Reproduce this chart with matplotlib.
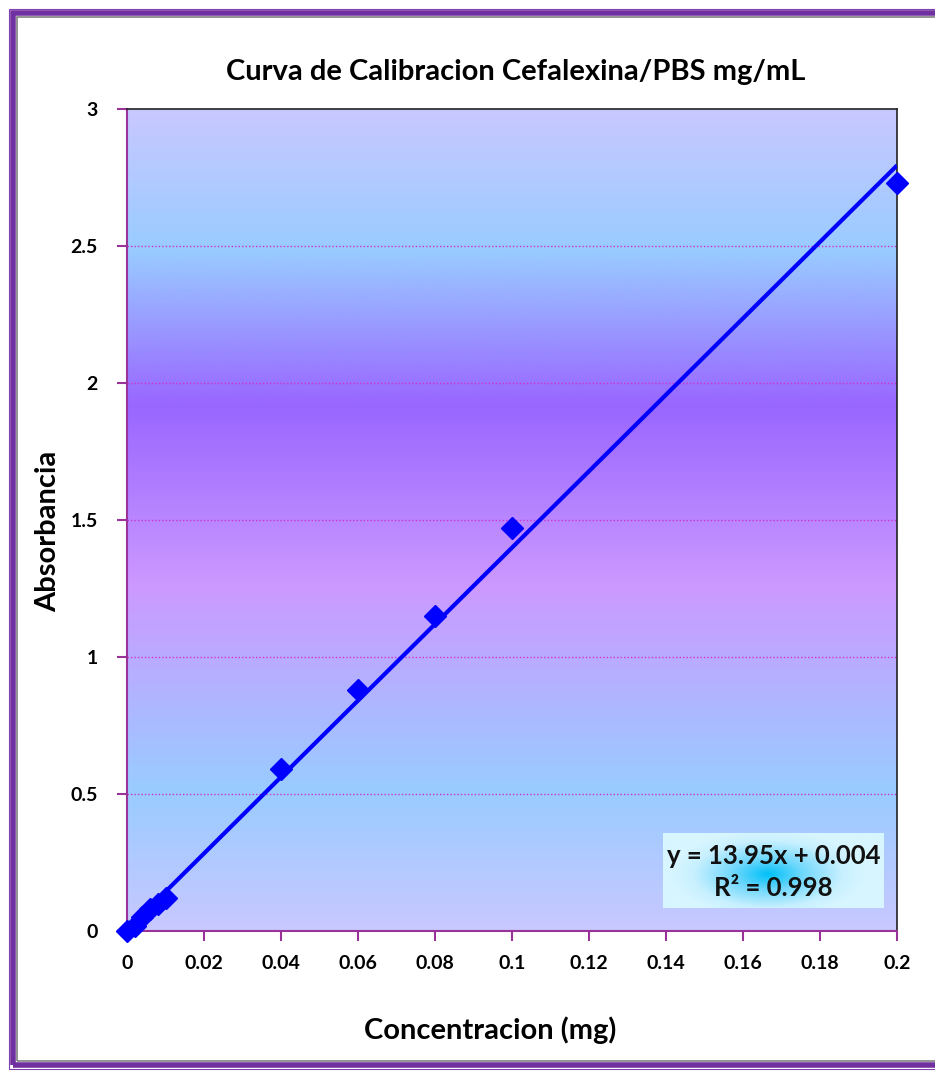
import numpy as np
import matplotlib
matplotlib.use("Agg")
import matplotlib.pyplot as plt
from matplotlib.colors import LinearSegmentedColormap
from matplotlib.patches import Rectangle

# ---- data ----
concentration = [0.0, 0.002, 0.004, 0.006, 0.008, 0.01, 0.04, 0.06, 0.08, 0.1, 0.2]
absorbance = [0.0, 0.02, 0.05, 0.08, 0.10, 0.12, 0.59, 0.88, 1.15, 1.47, 2.73]
slope = 13.95
intercept = 0.004
r2 = 0.998
x_ticks = [0, 0.02, 0.04, 0.06, 0.08, 0.1, 0.12, 0.14, 0.16, 0.18, 0.2]
x_tick_labels = ["0", "0.02", "0.04", "0.06", "0.08", "0.1", "0.12", "0.14", "0.16", "0.18", "0.2"]
y_ticks = [0, 0.5, 1, 1.5, 2, 2.5, 3]
y_tick_labels = ["0", "0.5", "1", "1.5", "2", "2.5", "3"]
title = "Curva de Calibracion Cefalexina/PBS mg/mL"
xlabel = "Concentracion (mg)"
ylabel = "Absorbancia"

plt.rcParams['font.family'] = ['Lato', 'DejaVu Sans']

W, H = 935, 1073
fig = plt.figure(figsize=(W / 100, H / 100), dpi=100)
fig.patch.set_facecolor("white")

# outer frame (right side extends beyond the image)
def frect(x0, y0, x1, y1, **kw):
    return Rectangle((x0 / W, 1 - y1 / H), (x1 - x0) / W, (y1 - y0) / H,
                     transform=fig.transFigure, fill=False, **kw)

fig.patches.append(frect(8.5, 8.5, W + 20, H - 4.5, edgecolor="#8040b0", linewidth=0.8))
fig.patches.append(frect(13, 13, W + 20, H - 8, edgecolor="#7030a0", linewidth=4))
fig.patches.append(frect(17, 17, W + 20, H - 12, edgecolor="#808080", linewidth=1.2))

# main axes
L, R, T, B = 127, 897, 109, 931
ax = fig.add_axes([L / W, 1 - B / H, (R - L) / W, (B - T) / H])

# gradient background (value 0 = top colour, 1 = bottom colour)
stops = [(0.0, "#c8c8ff"), (0.17, "#99ccff"), (0.36, "#9966ff"),
         (0.58, "#cc99ff"), (0.83, "#99ccff"), (1.0, "#c8c8ff")]
cmap = LinearSegmentedColormap.from_list("bg", stops)
grad = np.linspace(1, 0, 512).reshape(-1, 1)
ax.imshow(grad, cmap=cmap, aspect="auto", extent=[0, 0.2, 0, 3], origin="lower",
          zorder=0, interpolation="bicubic", vmin=0, vmax=1)
ax.set_xlim(0, 0.2)
ax.set_ylim(0, 3)

# gridlines
for yv in y_ticks[1:-1]:
    ax.axhline(yv, color="#cc33cc", linestyle=(0, (1, 1.5)), linewidth=1.0, zorder=1)

# trend line
xl = np.array([0.0, 0.2])
ax.plot(xl, slope * xl + intercept, color="#0000ff", linewidth=3, zorder=3,
        solid_capstyle="butt")
# points
ax.plot(concentration, absorbance, linestyle="none", marker="D", markersize=11,
        color="#0000ff", markeredgecolor="#0000ff", zorder=4, clip_on=False)

# spines
for s in ["left", "bottom"]:
    ax.spines[s].set_color("#993399")
    ax.spines[s].set_linewidth(1.5)
for s in ["top", "right"]:
    ax.spines[s].set_color("#222222")
    ax.spines[s].set_linewidth(1.2)

ax.set_xticks(x_ticks)
ax.set_xticklabels(x_tick_labels)
ax.set_yticks(y_ticks)
ax.set_yticklabels(y_tick_labels)
ax.tick_params(axis="both", direction="out", length=7, width=1.5, color="#993399",
               labelsize=14, pad=10)
for lab in ax.get_xticklabels() + ax.get_yticklabels():
    lab.set_fontweight("bold")
ax.tick_params(axis="y", pad=14)

ax.set_xlabel(xlabel, fontsize=21, fontweight="bold")
ax.set_ylabel(ylabel, fontsize=21, fontweight="bold")
ax.xaxis.set_label_coords((490 - L) / (R - L), (B - 1030) / (B - T))
ax.yaxis.set_label_coords((48 - L) / (R - L), (B - 531) / (B - T))
ax.xaxis.label.set_va("center")
ax.yaxis.label.set_va("center")

fig.text(516 / W, 1 - 72 / H, title, fontsize=21, fontweight="bold",
         ha="center", va="center")

# equation box
bx0, bx1, by0, by1 = 663, 884, 833, 908
bax = fig.add_axes([bx0 / W, 1 - by1 / H, (bx1 - bx0) / W, (by1 - by0) / H])
gx, gy = np.meshgrid(np.linspace(-1, 1, 300), np.linspace(-1, 1, 100))
rr = np.clip(np.sqrt(((gx + 0.05) / 0.9) ** 2 + ((gy - 0.1) / 1.2) ** 2), 0, 1)
bcmap = LinearSegmentedColormap.from_list("box", [(0, "#00c0f8"), (0.35, "#70d8fc"),
                                                   (0.75, "#c8f0ff"), (1, "#d8f6ff")])
bax.imshow(rr, cmap=bcmap, aspect="auto", extent=[0, 1, 0, 1], vmin=0, vmax=1,
           interpolation="bicubic")
bax.set_xlim(0, 1)
bax.set_ylim(0, 1)
bax.axis("off")
bax.text(0.5, 0.70, "y = %.2fx + %.3f" % (slope, intercept), ha="center", va="center",
         fontsize=18.5, fontweight="bold", color="#111111")
bax.text(0.5, 0.27, "R² = %.3f" % r2, ha="center", va="center",
         fontsize=18.5, fontweight="bold", color="#111111")

fig.savefig("out.png", dpi=100, facecolor="white")
